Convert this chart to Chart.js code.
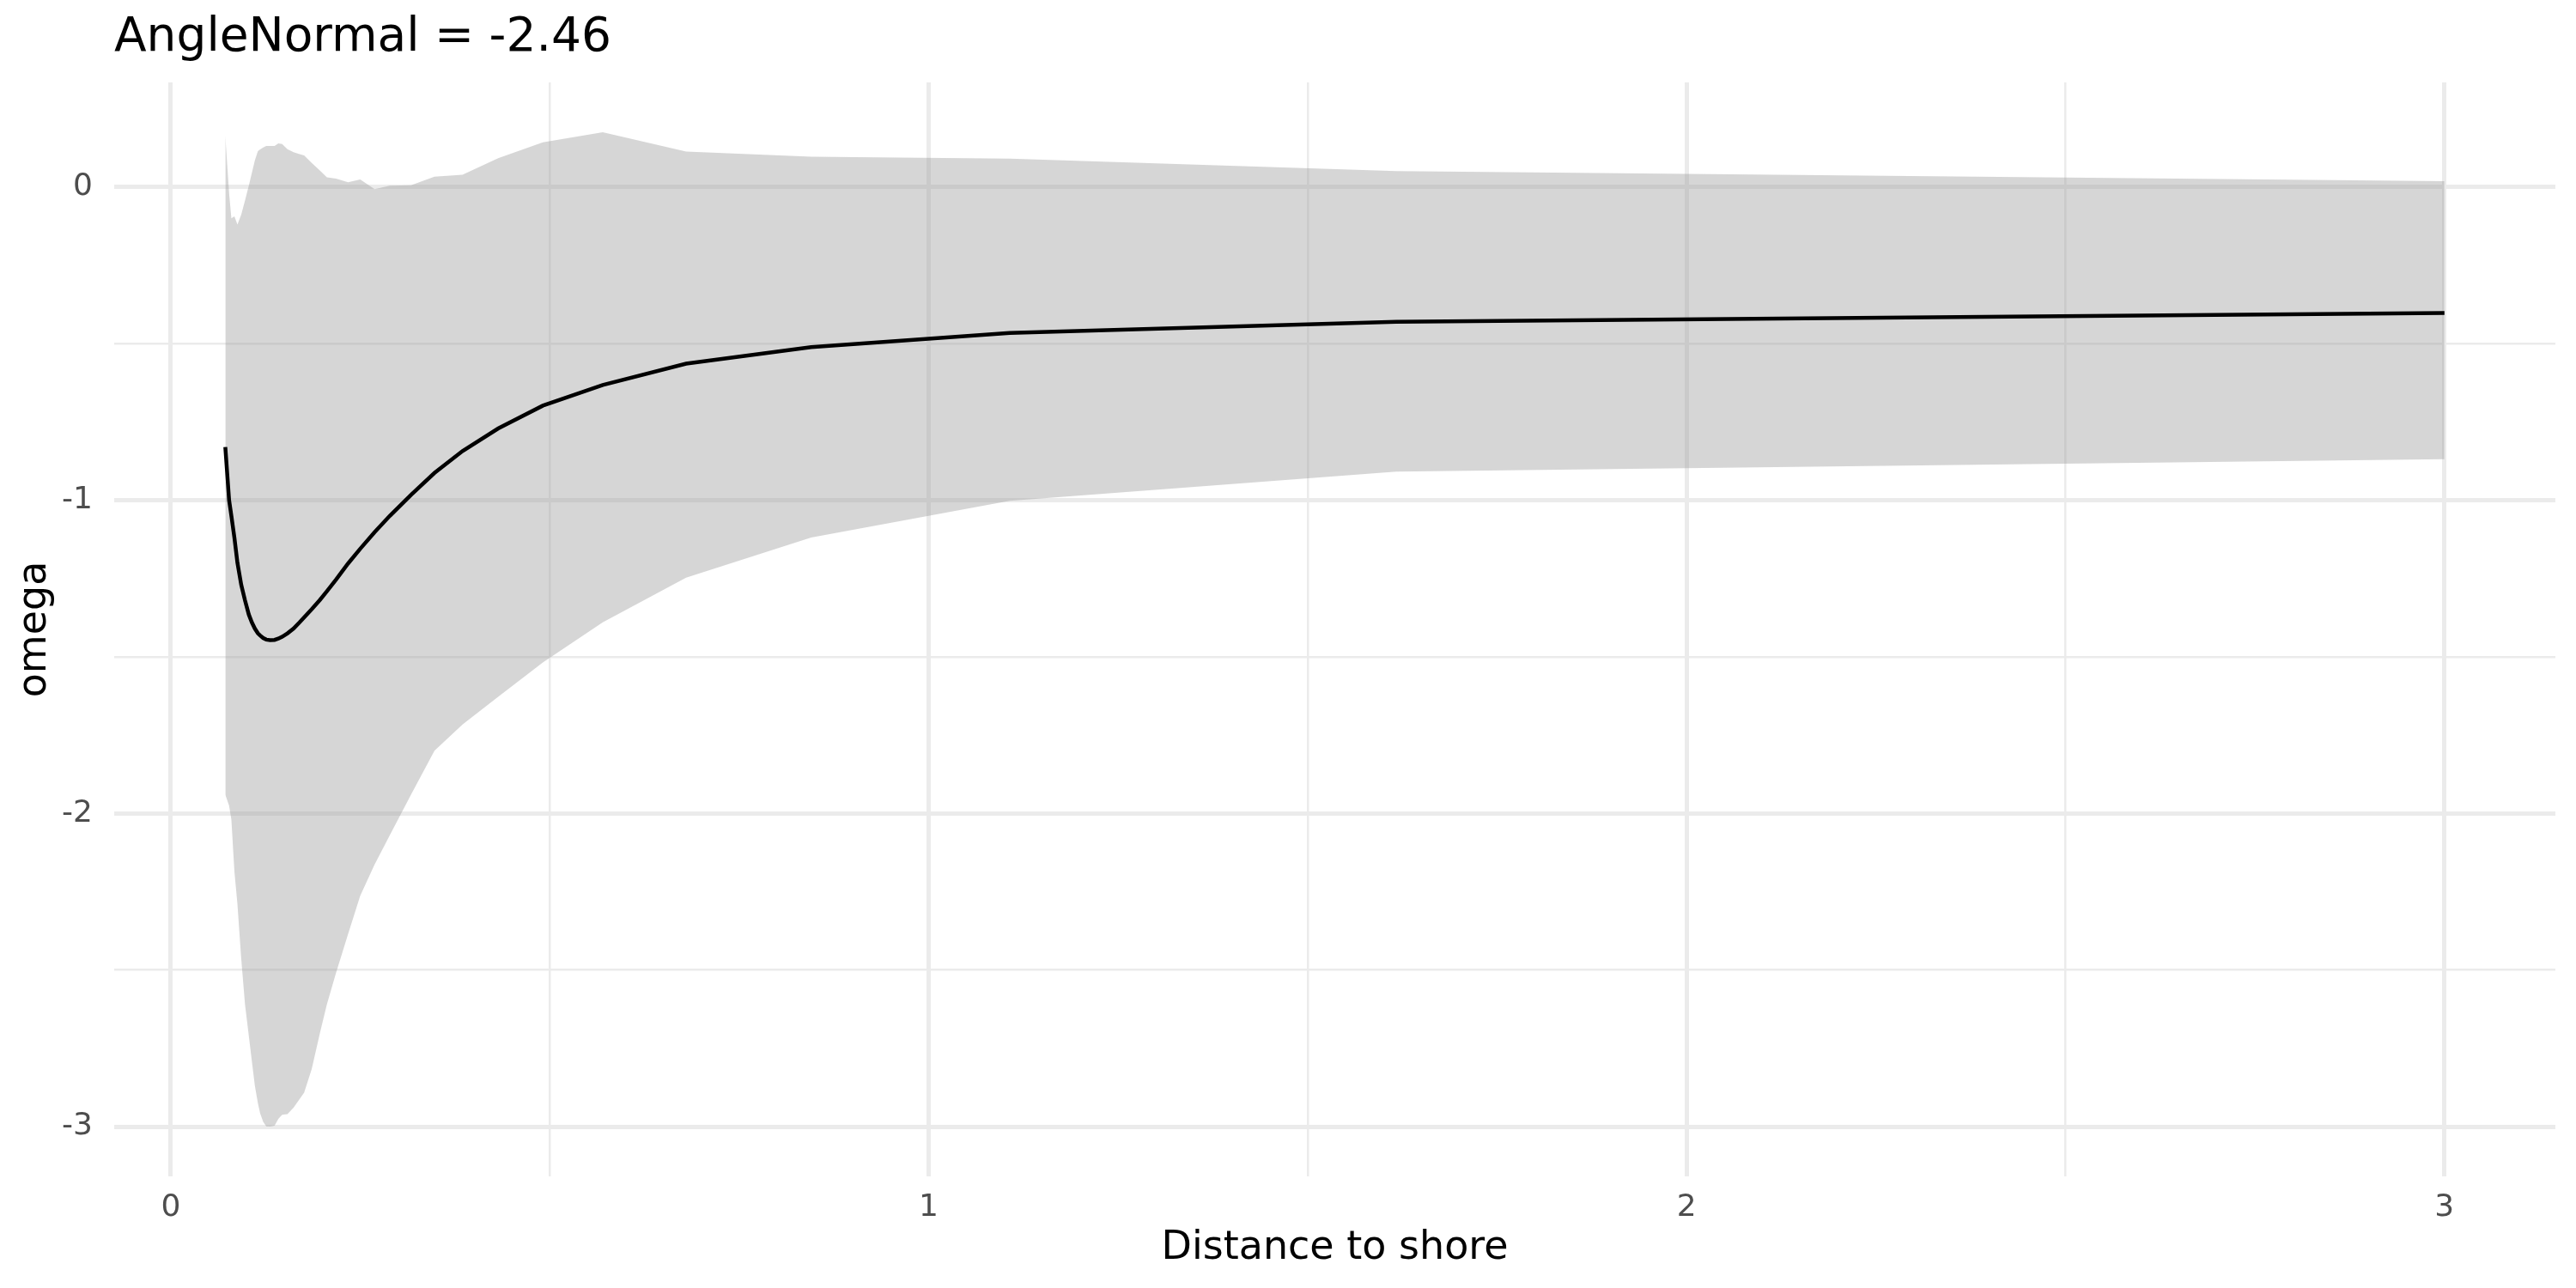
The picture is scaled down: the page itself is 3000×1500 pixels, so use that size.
<!DOCTYPE html>
<html>
<head>
<meta charset="utf-8">
<script src="https://cdn.jsdelivr.net/npm/chart.js@4"></script>
<style>
  body { margin: 0; background: white; }
  canvas { display: block; }
</style>
</head>
<body>
<canvas id="grafico" width="3000" height="1500"></canvas>
<script>
// valores
const distance = [0.072, 0.077, 0.080, 0.084, 0.088, 0.093, 0.098, 0.103, 0.107, 0.111,
  0.115, 0.118, 0.122, 0.126, 0.131, 0.137, 0.142, 0.147, 0.154, 0.162,
  0.170, 0.176, 0.186, 0.197, 0.206, 0.218, 0.234, 0.250, 0.269, 0.289,
  0.317, 0.348, 0.385, 0.432, 0.491, 0.570, 0.680, 0.845, 1.107, 1.617, 3.0]

const omega = [-0.83, -1.00, -1.05, -1.12, -1.20, -1.27, -1.32, -1.365, -1.39, -1.41,
  -1.425, -1.432, -1.440, -1.445, -1.447, -1.446, -1.442, -1.436, -1.425, -1.41,
  -1.39, -1.374, -1.348, -1.318, -1.291, -1.254, -1.202, -1.155, -1.102, -1.05,
  -0.983, -0.913, -0.843, -0.771, -0.698, -0.632, -0.564, -0.511, -0.466, -0.430, -0.402]

const upper = [0.164, -0.02, -0.10, -0.094, -0.12, -0.088, -0.043, 0.004, 0.045, 0.085,
  0.115, 0.12, 0.126, 0.131, 0.131, 0.131, 0.139, 0.137, 0.121, 0.111,
  0.105, 0.101, 0.077, 0.052, 0.031, 0.027, 0.015, 0.024, -0.007, 0.004,
  0.006, 0.033, 0.039, 0.092, 0.143, 0.175, 0.113, 0.097, 0.091, 0.051, 0.019]

const lower = [-1.94, -1.975, -2.02, -2.185, -2.29, -2.464, -2.61, -2.71, -2.79, -2.87,
  -2.925, -2.958, -2.985, -2.999, -3.0, -2.997, -2.975, -2.962, -2.960, -2.94,
  -2.912, -2.892, -2.816, -2.70, -2.61, -2.51, -2.385, -2.263, -2.163, -2.07,
  -1.94, -1.80, -1.716, -1.628, -1.518, -1.390, -1.247, -1.119, -1.002, -0.909, -0.869]

const xTicks = [0, 0.5, 1, 1.5, 2, 2.5, 3]
const yTicks = [-3, -2.5, -2, -1.5, -1, -0.5, 0]

Chart.defaults.font.family = 'DejaVu Sans'
Chart.defaults.color = '#4d4d4d'

const pontos = ys => distance.map((d, i) => ({ x: d, y: ys[i] }))

const grade = {
  color: '#ebebeb',
  lineWidth: c => Number.isInteger(c.tick.value) ? 5 : 2.5,
  drawTicks: false
}

const config = {
  type: 'line',
  data: {
    datasets: [
      { data: pontos(omega), borderColor: 'black', borderWidth: 4.5, pointRadius: 0, fill: false },
      { data: pontos(upper), borderWidth: 0, pointRadius: 0, fill: '+1',
        backgroundColor: 'rgba(153,153,153,0.4)' },
      { data: pontos(lower), borderWidth: 0, pointRadius: 0, fill: false }
    ]
  },
  options: {
    responsive: false,
    devicePixelRatio: 1,
    animation: false,
    layout: { padding: { top: 0, right: 24, bottom: 0, left: 0 } },
    plugins: {
      legend: { display: false },
      tooltip: { enabled: false },
      title: {
        display: true,
        text: 'AngleNormal = -2.46',
        align: 'start',
        fullSize: false,
        color: 'black',
        font: { size: 55, weight: 'normal' },
        padding: { top: 12, bottom: 18 }
      }
    },
    scales: {
      x: {
        type: 'linear',
        min: -0.0746,
        max: 3.1464,
        afterBuildTicks: s => { s.ticks = xTicks.map(v => ({ value: v })) },
        afterFit: s => { s.height = 130 },
        grid: grade,
        border: { display: false },
        ticks: {
          padding: 15,
          font: { size: 36 },
          callback: v => Number.isInteger(v) ? String(v) : ''
        },
        title: {
          display: true,
          text: 'Distance to shore',
          color: 'black',
          font: { size: 46 },
          padding: { top: 0, bottom: 18 }
        }
      },
      y: {
        min: -3.159,
        max: 0.334,
        afterBuildTicks: s => { s.ticks = yTicks.map(v => ({ value: v })) },
        afterFit: s => { s.width = 133 },
        grid: grade,
        border: { display: false },
        ticks: {
          padding: 25,
          font: { size: 36 },
          callback: v => Number.isInteger(v) ? String(v) : ''
        },
        title: {
          display: true,
          text: 'omega',
          color: 'black',
          font: { size: 46 },
          padding: { top: 13, bottom: 0 }
        }
      }
    }
  }
}

const grafico = new Chart(document.getElementById('grafico'), config)
</script>
</body>
</html>
